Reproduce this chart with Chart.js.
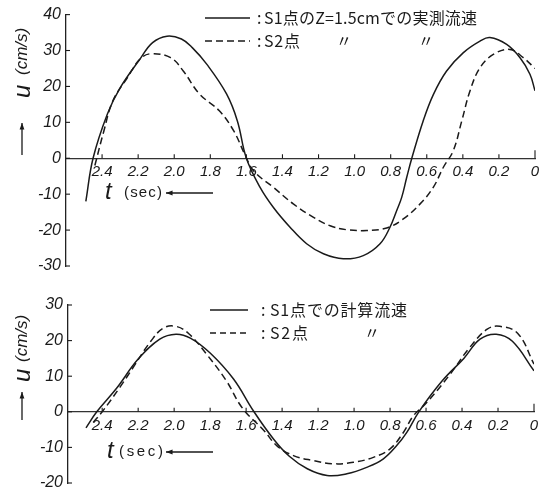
<!DOCTYPE html>
<html><head><meta charset="utf-8">
<script src="https://cdn.jsdelivr.net/npm/chart.js@4/dist/chart.umd.min.js"></script>
<style>
html,body{margin:0;padding:0;background:#fff;overflow:hidden;width:552px;height:489px;}
#c1{position:absolute;left:0;top:0;}
#c2{position:absolute;left:0;top:285px;}
</style></head><body>
<canvas id="c1" width="552" height="285"></canvas>
<canvas id="c2" width="552" height="215"></canvas>
<script>
// ---- Data (t in sec, u in cm/s) ----
const topS1_t = [2.49, 2.45, 2.37, 2.30, 2.19, 2.12, 2.04, 1.96, 1.90, 1.82, 1.71, 1.65, 1.60, 1.524, 1.45, 1.358, 1.266, 1.173, 1.063, 0.952, 0.859, 0.804, 0.767, 0.739, 0.711, 0.683, 0.62, 0.563, 0.49, 0.397, 0.305, 0.25, 0.157, 0.083, 0.028, 0.00];
const topS1_u = [-12.0, 0.0, 12.4, 19.6, 27.6, 32.2, 34.0, 33.2, 30.8, 26.2, 17.9, 10.4, 0.0, -8.1, -13.7, -19.2, -23.8, -26.6, -28.0, -27.1, -23.8, -19.2, -14.6, -10.9, -5.3, 0.0, 10.4, 17.8, 24.3, 29.4, 32.6, 33.6, 31.7, 28.0, 23.4, 18.8];
const topS2_t = [2.44, 2.39, 2.34, 2.26, 2.19, 2.13, 2.02, 1.95, 1.86, 1.75, 1.67, 1.61, 1.56, 1.45, 1.34, 1.23, 1.136, 1.044, 0.933, 0.822, 0.73, 0.637, 0.564, 0.508, 0.453, 0.406, 0.36, 0.305, 0.231, 0.139, 0.065, 0.00];
const topS2_u = [-2.0, 7.6, 16.0, 22.4, 27.6, 29.1, 28.0, 24.3, 17.9, 13.2, 7.6, 1.2, -3.5, -8.1, -12.7, -16.4, -18.8, -19.9, -20.1, -19.4, -16.9, -12.7, -8.1, -2.5, 2.1, 10.4, 18.8, 25.2, 28.9, 30.3, 28.0, 25.0];

const botS1_t = [2.49, 2.43, 2.32, 2.20, 2.08, 1.99, 1.91, 1.80, 1.67, 1.56, 1.45, 1.36, 1.26, 1.15, 1.04, 0.93, 0.837, 0.763, 0.707, 0.64, 0.51, 0.39, 0.30, 0.21, 0.12, 0.00];
const botS1_u = [-4.5, 0.0, 6.6, 14.8, 20.4, 21.8, 20.7, 16.5, 9.2, 0.3, -7.5, -12.5, -16.0, -17.9, -17.4, -15.6, -13.2, -9.5, -5.8, 0.0, 8.7, 15.0, 20.4, 21.8, 19.8, 11.5];
const botS2_t = [2.45, 2.40, 2.30, 2.23, 2.13, 2.06, 1.99, 1.92, 1.82, 1.71, 1.62, 1.50, 1.43, 1.337, 1.226, 1.115, 1.004, 0.893, 0.80, 0.726, 0.67, 0.596, 0.467, 0.36, 0.26, 0.19, 0.09, 0.00];
const botS2_u = [-3.0, 0.0, 7.0, 12.3, 19.8, 23.5, 24.0, 22.0, 16.2, 8.7, 1.0, -5.3, -9.5, -12.3, -13.7, -14.6, -14.2, -12.8, -10.4, -5.8, -1.1, 2.6, 10.5, 17.9, 23.2, 24.0, 22.0, 13.4];

const topLegend = ['S1点のZ=1.5cmでの実測流速', 'S2点'];
const botLegend = ['S1点での計算流速', 'S2点'];
const yTitleMain = 'u';
const yTitleUnit = '(cm/s)';
const xTitleMain = 't';
const xTitleUnit = '(sec)';

const pts = (ts, us) => ts.map((t, i) => ({x: t, y: us[i]}));
const INK = '#1a1a1a';
const NUMFONT = '"Liberation Sans", "DejaVu Sans", sans-serif';
const JPFONT = '"Noto Sans CJK JP", sans-serif';

function arrow(ctx, x1, y1, x2, y2) {
  ctx.beginPath(); ctx.moveTo(x1, y1); ctx.lineTo(x2, y2); ctx.stroke();
  const a = Math.atan2(y2 - y1, x2 - x1), h = 7;
  ctx.beginPath();
  ctx.moveTo(x2, y2);
  ctx.lineTo(x2 - h * Math.cos(a - 0.35), y2 - h * Math.sin(a - 0.35));
  ctx.lineTo(x2 - h * Math.cos(a + 0.35), y2 - h * Math.sin(a + 0.35));
  ctx.closePath(); ctx.fill();
}

function fitText(ctx, text, x, y, width) {
  ctx.letterSpacing = '0px';
  const w = ctx.measureText(text).width;
  const n = Array.from(text).length;
  if (width && n > 1) {
    const sp = Math.max(0, (width - w) / (n - 1));
    ctx.letterSpacing = sp.toFixed(2) + 'px';
  }
  ctx.fillText(text, x, y);
  ctx.letterSpacing = '0px';
}

const decor = {
  id: 'decor',
  afterDraw(chart, args, o) {
    const {ctx, scales: {x, y}, chartArea: ca} = chart;
    const y0 = y.getPixelForValue(0);
    ctx.save();
    ctx.strokeStyle = INK; ctx.fillStyle = INK; ctx.lineWidth = 1.1;
    // inner tick marks
    x.ticks.forEach(t => {
      if (t.value > 2.5) return;
      const px = x.getPixelForValue(t.value);
      const len = Math.abs(t.value) < 1e-6 ? 8 : 4;
      ctx.beginPath(); ctx.moveTo(px, y0); ctx.lineTo(px, y0 - len); ctx.stroke();
    });
    y.ticks.forEach(t => {
      const py = y.getPixelForValue(t.value);
      ctx.beginPath(); ctx.moveTo(ca.left, py); ctx.lineTo(ca.left + 4, py); ctx.stroke();
    });
    // legend
    ctx.lineWidth = 1.4;
    o.legend.forEach(row => {
      ctx.setLineDash(row.dash);
      ctx.beginPath(); ctx.moveTo(row.x1, row.y); ctx.lineTo(row.x2, row.y); ctx.stroke();
      ctx.setLineDash([]);
      ctx.textBaseline = 'middle'; ctx.textAlign = 'left';
      ctx.font = o.legendFont + 'px ' + JPFONT;
      ctx.fillText(':', row.cx, row.y);
      fitText(ctx, row.text, row.tx, row.y, row.tw);
      (row.ditto || []).forEach(dx => ctx.fillText('〃', dx, row.y));
    });
    // y-axis title (rotated)
    ctx.save();
    ctx.translate(o.yTitle.x, o.yTitle.y);
    ctx.rotate(-Math.PI / 2);
    ctx.lineWidth = 1.3;
    arrow(ctx, 0, 0, o.yTitle.arrow, 0);
    ctx.textBaseline = 'middle'; ctx.textAlign = 'left';
    ctx.font = 'italic 24px ' + NUMFONT;
    ctx.fillText(yTitleMain, o.yTitle.u, 1);
    ctx.font = 'italic 17px ' + NUMFONT;
    fitText(ctx, yTitleUnit, o.yTitle.unit, 0, o.yTitle.unitW);
    ctx.restore();
    // x-axis title
    ctx.textBaseline = 'middle'; ctx.textAlign = 'left';
    ctx.font = 'italic 24px ' + NUMFONT;
    ctx.fillText(xTitleMain, o.xTitle.x, o.xTitle.y - 1);
    ctx.font = '15px ' + NUMFONT;
    fitText(ctx, xTitleUnit, o.xTitle.ux, o.xTitle.y, o.xTitle.uw);
    ctx.lineWidth = 1.3;
    arrow(ctx, 213, o.xTitle.y, 166, o.xTitle.y);
    ctx.restore();
  }
};

function makeChart(id, s1, s2, ymin, ymax, xmax, pad, plug) {
  return new Chart(document.getElementById(id), {
    type: 'line',
    data: {
      datasets: [
        {label: 'S1', data: s1, borderColor: INK, borderWidth: 1.5, pointRadius: 0, tension: 0.4, fill: false},
        {label: 'S2', data: s2, borderColor: INK, borderWidth: 1.5, borderDash: [7, 4], pointRadius: 0, tension: 0.4, fill: false}
      ]
    },
    options: {
      responsive: false, animation: false, devicePixelRatio: 1,
      layout: {padding: pad},
      plugins: {legend: {display: false}, tooltip: {enabled: false}, decor: plug},
      scales: {
        x: {
          type: 'linear', reverse: true, min: 0, max: xmax,
          position: {y: 0},
          grid: {display: true, drawOnChartArea: false, drawTicks: false},
          border: {display: true, color: '#333', width: 1.2},
          ticks: {
            stepSize: 0.2, includeBounds: false, autoSkip: false, maxRotation: 0, padding: 5, color: INK,
            font: {family: NUMFONT, size: 15, style: 'italic'},
            callback: v => (v > 2.5 ? '' : (Math.abs(v) < 1e-6 ? '0' : (Math.round(v * 10) / 10).toFixed(1)))
          }
        },
        y: {
          min: ymin, max: ymax,
          grid: {display: true, drawOnChartArea: false, drawTicks: false},
          border: {display: true, color: '#222', width: 1.3},
          ticks: {stepSize: 10, padding: 5, color: INK, font: {family: NUMFONT, size: 16, style: 'italic'}},
          afterFit(s) { s.width = 30; }
        }
      }
    },
    plugins: [decor]
  });
}

makeChart('c1', pts(topS1_t, topS1_u), pts(topS2_t, topS2_u), -30, 40, 2.6,
  {left: 36, right: 17, top: 14, bottom: 19},
  {
    legendFont: 16,
    legend: [
      {x1: 205, x2: 250, y: 18, cx: 257, dash: [], text: topLegend[0], tx: 264, tw: 213},
      {x1: 205, x2: 250, y: 41, cx: 257, dash: [7, 4], text: topLegend[1], tx: 264, tw: 36, ditto: [336, 418]}
    ],
    yTitle: {x: 22, y: 155, arrow: 32, u: 57, unit: 80, unitW: 47},
    xTitle: {x: 105, y: 193, ux: 124, uw: 38}
  });

makeChart('c2', pts(botS1_t, botS1_u), pts(botS2_t, botS2_u), -20, 30, 2.59,
  {left: 38, right: 18, top: 20, bottom: 17},
  {
    legendFont: 16,
    legend: [
      {x1: 210, x2: 248, y: 25, cx: 261, dash: [], text: botLegend[0], tx: 270, tw: 137},
      {x1: 210, x2: 250, y: 48, cx: 261, dash: [6, 4], text: botLegend[1], tx: 270, tw: 38, ditto: [364]}
    ],
    yTitle: {x: 22, y: 135, arrow: 28, u: 38, unit: 58, unitW: 47},
    xTitle: {x: 107, y: 167, ux: 119, uw: 44}
  });
</script>
</body></html>
